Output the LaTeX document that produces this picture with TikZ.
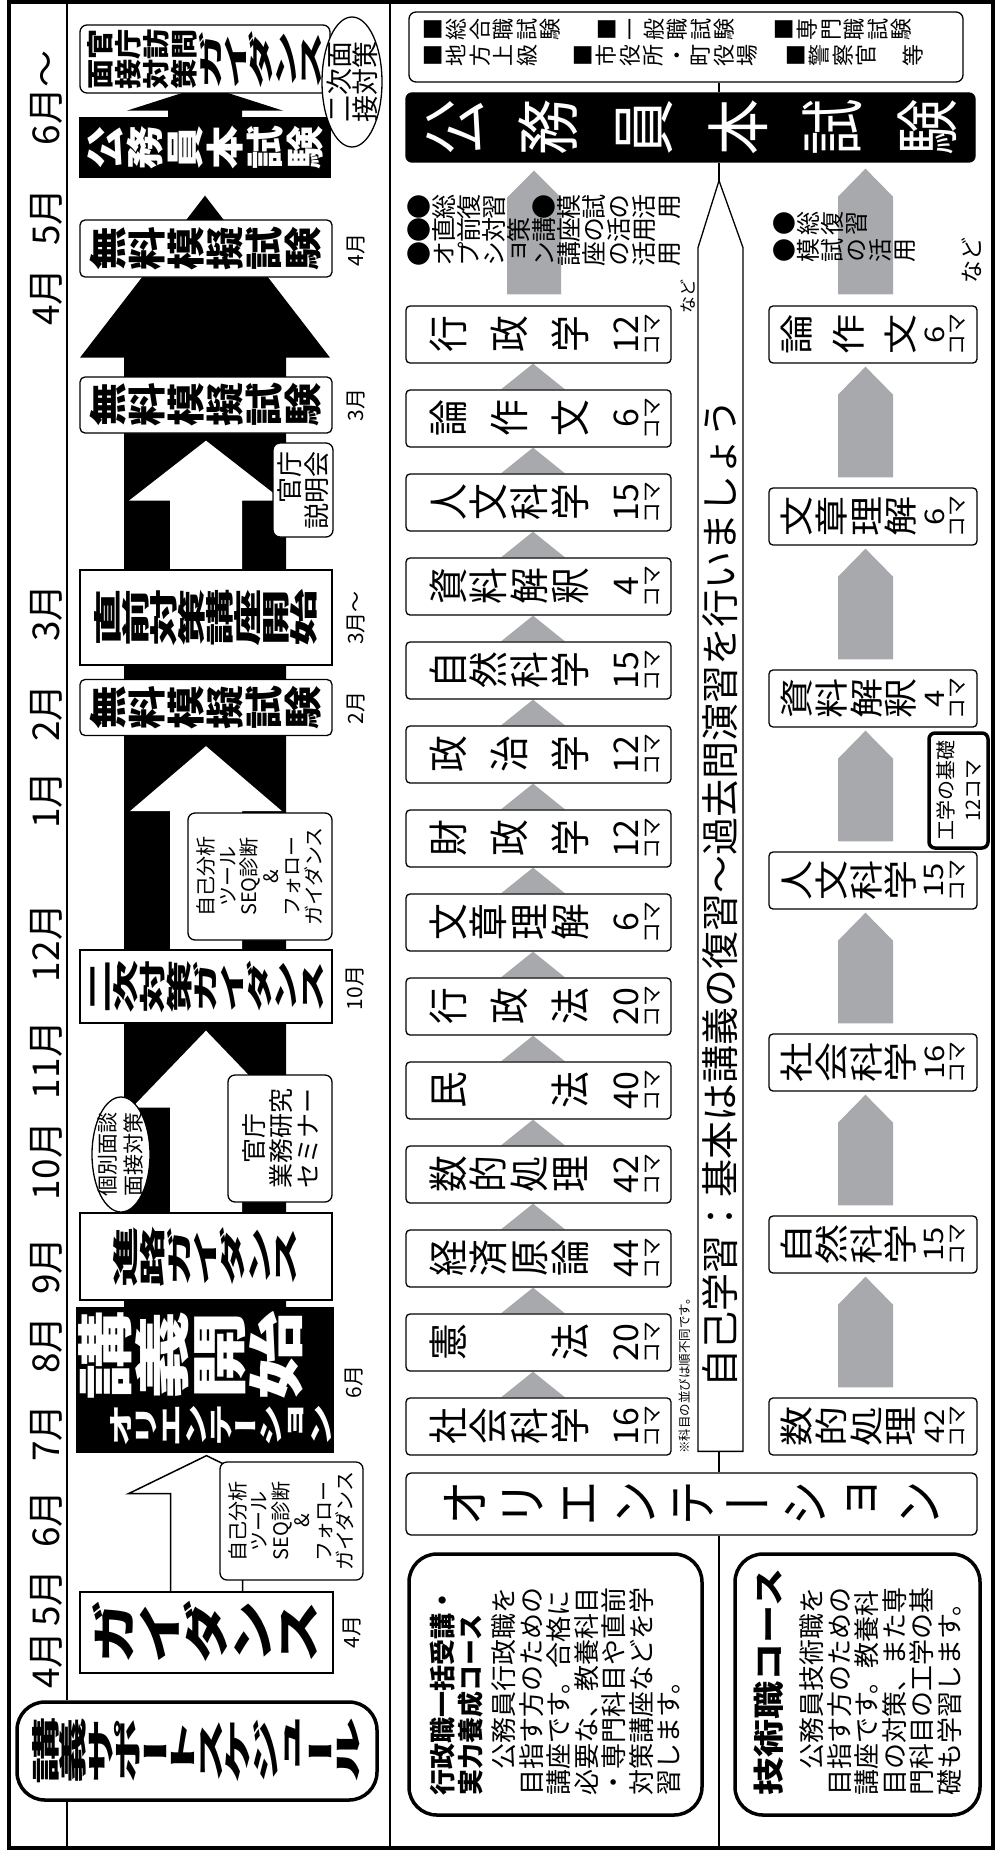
\documentclass[tikz,border=0pt]{standalone}
\usepackage{fontspec}
\usepackage{graphicx}
\setmainfont{Noto Sans CJK JP}
\newfontfamily\tatefont[RawFeature=+vert]{Noto Sans CJK JP}
\usetikzlibrary{calc,shapes.geometric}
\pgfdeclarelayer{back}
\pgfdeclarelayer{mid}
\pgfsetlayers{back,mid,main}
\definecolor{gry}{RGB}{167,169,172}

% tategaki: one glyph per cell, cells stacked downwards
\newcommand\tatep{1em}
\newcommand\tatew{1em}
\newcommand\tsx{1}
\newcommand\tcell[1]{\hbox to\tatew{\hss\vbox to\tatep{\vss\hbox{\scalebox{\tsx}[1]{\vrule height.88em depth.12em width0pt\relax#1}}\vss}\hss}}
\def\tloop#1{\ifx\relax#1\else\tcell{#1}\expandafter\tloop\fi}
\newcommand\tate[1]{\vtop{\offinterlineskip\expandafter\tloop#1\relax}}
\newcommand\tjust[2]{\vbox to#1{\offinterlineskip\let\tsep\relax\expandafter\jloop#2\relax}}
\def\jloop#1{\ifx\relax#1\else\tsep\let\tsep\vfill\tcell{#1}\expandafter\jloop\fi}
% size, pitch, x-stretch, column width
\newcommand\tsetfont[4]{\tatefont\fontsize{#1}{#1}\selectfont\def\tatep{#2}\def\tsx{#3}\def\tatew{#4}}

% subject boxes (left and right column)
\newcommand\lsub[2]{\hbox to57pt{\hss\vbox to265pt{\offinterlineskip\kern22pt
  \hbox to57pt{\hss\tsetfont{40}{40pt}{0.92}{36pt}\tjust{162pt}{#1}\hss}\kern24pt
  \hbox to57pt{\hss\vbox to25pt{\vss\hbox{\fontsize{34}{34}\selectfont#2}\vss}\hss}\kern4pt
  \hbox to57pt{\hss\vbox to20pt{\vss\hbox{\fontsize{21}{21}\selectfont コマ}\vss}\hss}\vss}\hss}}
\newcommand\tsub[2]{\hbox to57pt{\hss\vbox to208pt{\offinterlineskip\kern11pt
  \hbox to57pt{\hss\tsetfont{34}{34pt}{1.18}{40pt}\tjust{138pt}{#1}\hss}\kern6pt
  \hbox to57pt{\hss\vbox to21pt{\vss\hbox{\scalebox{1.15}[1]{\fontsize{27}{27}\selectfont#2}}\vss}\hss}\kern3pt
  \hbox to57pt{\hss\vbox to19pt{\vss\hbox{\fontsize{21}{21}\selectfont コマ}\vss}\hss}\vss}\hss}}

% block arrow pointing up: style, from, apex, head length, shaft half, head half
\newcommand\uparr[6][]{\path[#1] let \p1=(#2), \p2=(#3) in
  (\x1-#5,\y1) -- (\x1-#5,\y2-#4) -- (\x1-#6,\y2-#4) -- (\x1,\y2)
  -- (\x1+#6,\y2-#4) -- (\x1+#5,\y2-#4) -- (\x1+#5,\y1);}

\begin{document}
\begin{tikzpicture}[x=1pt, y=-1pt,
    sbox/.style={draw, fill=white, line width=1.3pt, inner sep=0pt, rotate=90},
    rbox/.style={sbox, rounded corners=7pt},
    cbox/.style={sbox, line width=3.5pt, rounded corners=28pt},
    subj/.style={sbox, rounded corners=4pt},
    ell/.style={ellipse, draw, fill=white, line width=1.3pt, inner sep=0pt, rotate=90},
    pbox/.style 2 args={minimum height=#1pt, minimum width=#2pt},
    htx/.style={rotate=90, inner sep=0pt, align=center},
    vtx/.style={rotate=90, inner sep=0pt, anchor=north},
    month/.style={htx, font=\fontsize{37}{37}\selectfont},
    lab/.style={htx, font=\fontsize{21}{21}\selectfont},
    ln/.style={line width=1.6pt},
    warr/.style={draw, fill=white, line width=1.5pt, line join=miter},
    garr/.style={fill=gry}
]
\useasboundingbox (0,0) rectangle (1001,1854);
\coordinate (ftop) at (0,2);
\coordinate (fbot) at (0,1848);
\coordinate (mcol) at (67,0);
\coordinate (mid) at (719,0);

% frame
\draw[line width=3.5pt] (9,2) rectangle (993,1848);
\draw[ln] (390,2) -- (390,1848);

% months
\foreach \t/\p [count=\i] in {4月/1660, 5月/1598, 6月/1519, 7月/1433, 8月/1345,
    9月/1266, 10月/1161, 11月/1060, 12月/943, 1月/800, 2月/713, 3月/613,
    4月/297, 5月/217, 6月〜/98}
  \node[month] (m\i) at (46,\p) {\t};

% schedule
\node[cbox, pbox={360}{98}] (title) at (197,1751)
  {\bfseries\tsetfont{28}{27.5pt}{2.4}{64pt}\tate{講義サポートスケジュール}};
\draw[ln] (mcol |- ftop) -- (mcol |- title.east);
\draw[ln] (mcol |- title.west) -- (mcol |- fbot);

\node[sbox, pbox={253}{81}] (guid) at (206.5,1632.5)
  {\bfseries\tsetfont{46}{46pt}{1.4}{60pt}\tate{ガイダンス}};
\node[sbox, fill=black, text=white, pbox={254}{144}] (kaishi) at (205,1380)
  {\bfseries\hbox{\tsetfont{25}{25pt}{1.75}{40pt}\tate{オリエンテーション}\kern8pt\tsetfont{56}{57pt}{1.6}{83pt}\tate{講義開始}}};
\node[rbox, pbox={143}{118}, align=center, font=\fontsize{20}{21.5}\selectfont] (jiko1) at (291.5,1521)
  {自己分析\\ツール\\SEQ診断\\\&\\フォロー\\ガイダンス};
\node[sbox, pbox={252}{87}] (shinro) at (206,1256.5)
  {\bfseries\tsetfont{26}{26.7pt}{2.35}{57pt}\tate{進路ガイダンス}};
\node[ell, minimum width=115pt, minimum height=58pt] (kobetsu) at (121,1154.5) {};
\node[htx, font=\fontsize{21}{26}\selectfont] (kobetsutx) at (kobetsu) {個別面談\\面接対策};
\node[rbox, pbox={104}{127}, align=center, font=\fontsize{25}{27}\selectfont] (semi) at (280,1138.5)
  {官庁\\業務研究\\セミナー};
\node[sbox, pbox={252}{73}] (niji) at (206,986.5)
  {\bfseries\tsetfont{26}{26.7pt}{2.05}{50pt}\tate{二次対策ガイダンス}};
\node[rbox, pbox={144}{127}, align=center, font=\fontsize{20}{21.5}\selectfont] (jiko2) at (260,876.5)
  {自己分析\\ツール\\SEQ診断\\\&\\フォロー\\ガイダンス};
\node[rbox, rounded corners=5pt, pbox={252}{56}] (mo2) at (206,707.5)
  {\bfseries\tsetfont{38}{39pt}{1.15}{40pt}\tate{無料模擬試験}};
\node[sbox, pbox={252}{95}] (chokuzen) at (206,617.5)
  {\bfseries\tsetfont{28}{28pt}{2.05}{53pt}\tate{直前対策講座開始}};
\node[rbox, pbox={60}{94}, align=right, font=\fontsize{26}{27}\selectfont] (setsu) at (303,490)
  {官庁\\説明会};
\node[rbox, rounded corners=5pt, pbox={252}{56}] (mo3) at (206,405)
  {\bfseries\tsetfont{38}{39pt}{1.15}{40pt}\tate{無料模擬試験}};
\node[rbox, rounded corners=5pt, pbox={252}{57}] (mo4) at (206,248.5)
  {\bfseries\tsetfont{38}{39pt}{1.15}{40pt}\tate{無料模擬試験}};
\node[sbox, fill=black, text=white, pbox={250}{59}] (honsch) at (205,147.5)
  {\bfseries\tsetfont{38}{40pt}{1.15}{40pt}\tate{公務員本試験}};
\node[rbox, pbox={250}{68}] (houmon) at (205,59)
  {\bfseries\vtop{\offinterlineskip\hbox{\tsetfont{27}{28pt}{1.12}{30pt}\tate{面接対策}\tate{官庁訪問}}\hbox{\tsetfont{25}{25pt}{2.4}{56pt}\tate{ガイダンス}}}};
\node[ell, minimum width=130pt, minimum height=60pt] (niji2) at (352,82) {};
\node[htx, font=\fontsize{27}{26}\selectfont] (niji2tx) at (niji2) {二次面\\接対策};

\node[lab] (lb1) at (352,1632) {4月};
\node[lab] (lb2) at (354,1382) {6月};
\node[lab] (lb3) at (355,988) {10月};
\node[lab] (lb4) at (356,708) {2月};
\node[lab] (lb5) at (356,618) {3月〜};
\node[lab] (lb6) at (356,405) {3月};
\node[lab] (lb7) at (356,250) {4月};

\begin{pgfonlayer}{back}
  \uparr[fill=black]{kaishi.center}{$(honsch.west)+(0,18)$}{162}{81}{125}
  \uparr[fill=black]{honsch.center}{$(houmon.west)+(0,-8)$}{25}{37}{78}
\end{pgfonlayer}
\begin{pgfonlayer}{mid}
  \uparr[warr]{guid.east}{$(kaishi.west)+(0,3)$}{38}{36}{78}
  \uparr[fill=white]{shinro.center}{$(niji.west)+(0,7)$}{77}{36}{74}
  \uparr[fill=white]{niji.center}{$(mo2.west)+(0,10)$}{65}{36}{76}
  \uparr[fill=white]{chokuzen.center}{$(mo3.west)+(0,7)$}{60}{36}{77}
\end{pgfonlayer}

% courses
\node[rbox, pbox={554}{70}] (kk) at (686,47) {};
\foreach \t/\x/\y [count=\i] in {■総合職試験/421/30, ■一般職試験/595/30, ■専門職試験/772/30,
    ■地方上級/421/56, ■市役所・町役場/571/56, ■警察官　等/784/56}
  \node[vtx] (kk\i) at (\x,\y) {\tsetfont{22}{23.5pt}{1}{22pt}\tate{\t}};
\node[sbox, rounded corners=6pt, fill=black, text=white, pbox={569}{69}] (gk) at (690.5,127.5)
  {\tsetfont{64}{94.6pt}{0.88}{56pt}\tate{公務員本試験}};

\node[vtx] (f1) at (406,207) {\tsetfont{25}{25pt}{1}{23pt}\tate{●総復習　●模試の活用}};
\node[vtx] (f2) at (406,230) {\tsetfont{25}{25pt}{1}{23pt}\tate{●直前対策講座の活用}};
\node[vtx] (f3) at (406,254) {\tsetfont{25}{25pt}{1}{23pt}\tate{●オプション講座の活用}};
\node[vtx] (f4) at (772,223) {\tsetfont{24}{24pt}{1}{22pt}\tate{●総復習}};
\node[vtx] (f5) at (772,250) {\tsetfont{24}{24pt}{1}{22pt}\tate{●模試の活用}};
\node[htx, font=\fontsize{17}{17}\selectfont] (nado1) at (688,296) {など};
\node[htx, font=\fontsize{23}{23}\selectfont] (nado2) at (972,260) {など};

\foreach \nm/\nu [count=\k from 0] in {行政学/12, 論作文/6, 人文科学/15, 資料解釈/4,
    自然科学/15, 政治学/12, 財政学/12, 文章理解/6, 行政法/20, 民法/40, 数的処理/42,
    経済原論/44, 憲法/20, 社会科学/16}
  \node[subj] (a\k) at (538.5,334.5+84*\k) {\lsub{\nm}{\nu}};
\foreach \nm/\nu [count=\k from 0] in {論作文/6, 文章理解/6, 資料解釈/4, 人文科学/15,
    社会科学/16, 自然科学/15, 数的処理/42}
  \node[subj] (t\k) at (873,334.5+182*\k) {\tsub{\nm}{\nu}};
\node[sbox, rounded corners=6pt, line width=3.5pt, pbox={59}{115}, align=center,
  font=\fontsize{20}{27}\selectfont] (kiso) at (958.5,790.5) {工学の基礎\\12コマ};

\node[sbox, rounded corners=5pt, pbox={571}{62}] (ori) at (691.5,1504)
  {\tsetfont{52}{56.7pt}{0.88}{46pt}\tate{オリエンテーション}};

% banner
\coordinate (bt) at ($(gk.west -| mid)+(0,18)$);
\coordinate (bb) at ($(ori.east -| mid)+(0,-21)$);
\draw[line width=1.3pt, fill=white] (bt) -- ($(bt)+(24,67)$) -- ($(bb)+(24,0)$)
  -- ($(bb)+(-21,0)$) -- ($(bt)+(-21,67)$) -- cycle;
\node[htx, font=\fontsize{38}{38}\selectfont] (bntx) at (720.5,893)
  {自己学習：基本は講義の復習〜過去問演習を行いましょう};
\node[htx, font=\fontsize{12.5}{12.5}\selectfont] (note) at (685,1373) {※科目の並びは順不同です。};

\node[cbox, pbox={293}{261}, text width=222pt, align=left, font=\fontsize{26}{27.5}\selectfont]
  (gyosei) at (555.5,1684.5)
  {{\bfseries 行政職一括受講・}\\{\bfseries 実力養成コース}\\[6pt]　公務員行政職を\\目指す方のための\\講座です。合格に\\必要な、教養科目\\・専門科目や直前\\対策講座などを学\\習します。};
\node[cbox, pbox={245}{261}, text width=222pt, align=left, font=\fontsize{26}{27.5}\selectfont]
  (gijutsu) at (857.5,1684.5)
  {\scalebox{1.23}[1]{\fontsize{31}{31}\selectfont\bfseries 技術職コース}\\[14pt]　公務員技術職を\\目指す方のための\\講座です。教養科\\目の対策、また専\\門科目の工学の基\\礎も学習します。};

\begin{pgfonlayer}{back}
  \draw[ln] (kk.west -| mid) -- (gk.east -| mid);
  \draw[ln] (gk.west -| mid) -- (bt);
  \draw[ln] (bb) -- (ori.east -| mid);
  \draw[ln] (ori.west -| mid) -- (mid |- fbot);
  % grey steps
  \foreach \j [evaluate=\j as \k using int(\j-1)] in {1,...,13}
    \fill[garr] ($(a\k.west)+(-5.5,0)$) -- ($(a\j.east)+(-37.5,0)$) -- ($(a\j.east)+(26.5,0)$) -- cycle;
  \foreach \j [evaluate=\j as \k using int(\j-1)] in {1,...,6}
    \fill[garr] ($(t\k.west)+(-7.5,3)$) -- ++(27.5,28) -- ($(t\j.east)+(20,-10)$) -- ++(-55,0)
      -- ($(t\k.west)+(-35,31)$) -- cycle;
  \fill[garr] ($(gk.west -| a0)+(-4.5,8)$) -- ++(27,27) -- ($(a0.east)+(22.5,-11)$) -- ++(-54,0)
    -- ($(gk.west -| a0)+(-31.5,35)$) -- cycle;
  \fill[garr] ($(gk.west -| t0)+(-7.5,6)$) -- ++(27.5,28) -- ($(t0.east)+(20,-11)$) -- ++(-55,0)
    -- ($(gk.west -| t0)+(-35,34)$) -- cycle;
\end{pgfonlayer}
\end{tikzpicture}
\end{document}
